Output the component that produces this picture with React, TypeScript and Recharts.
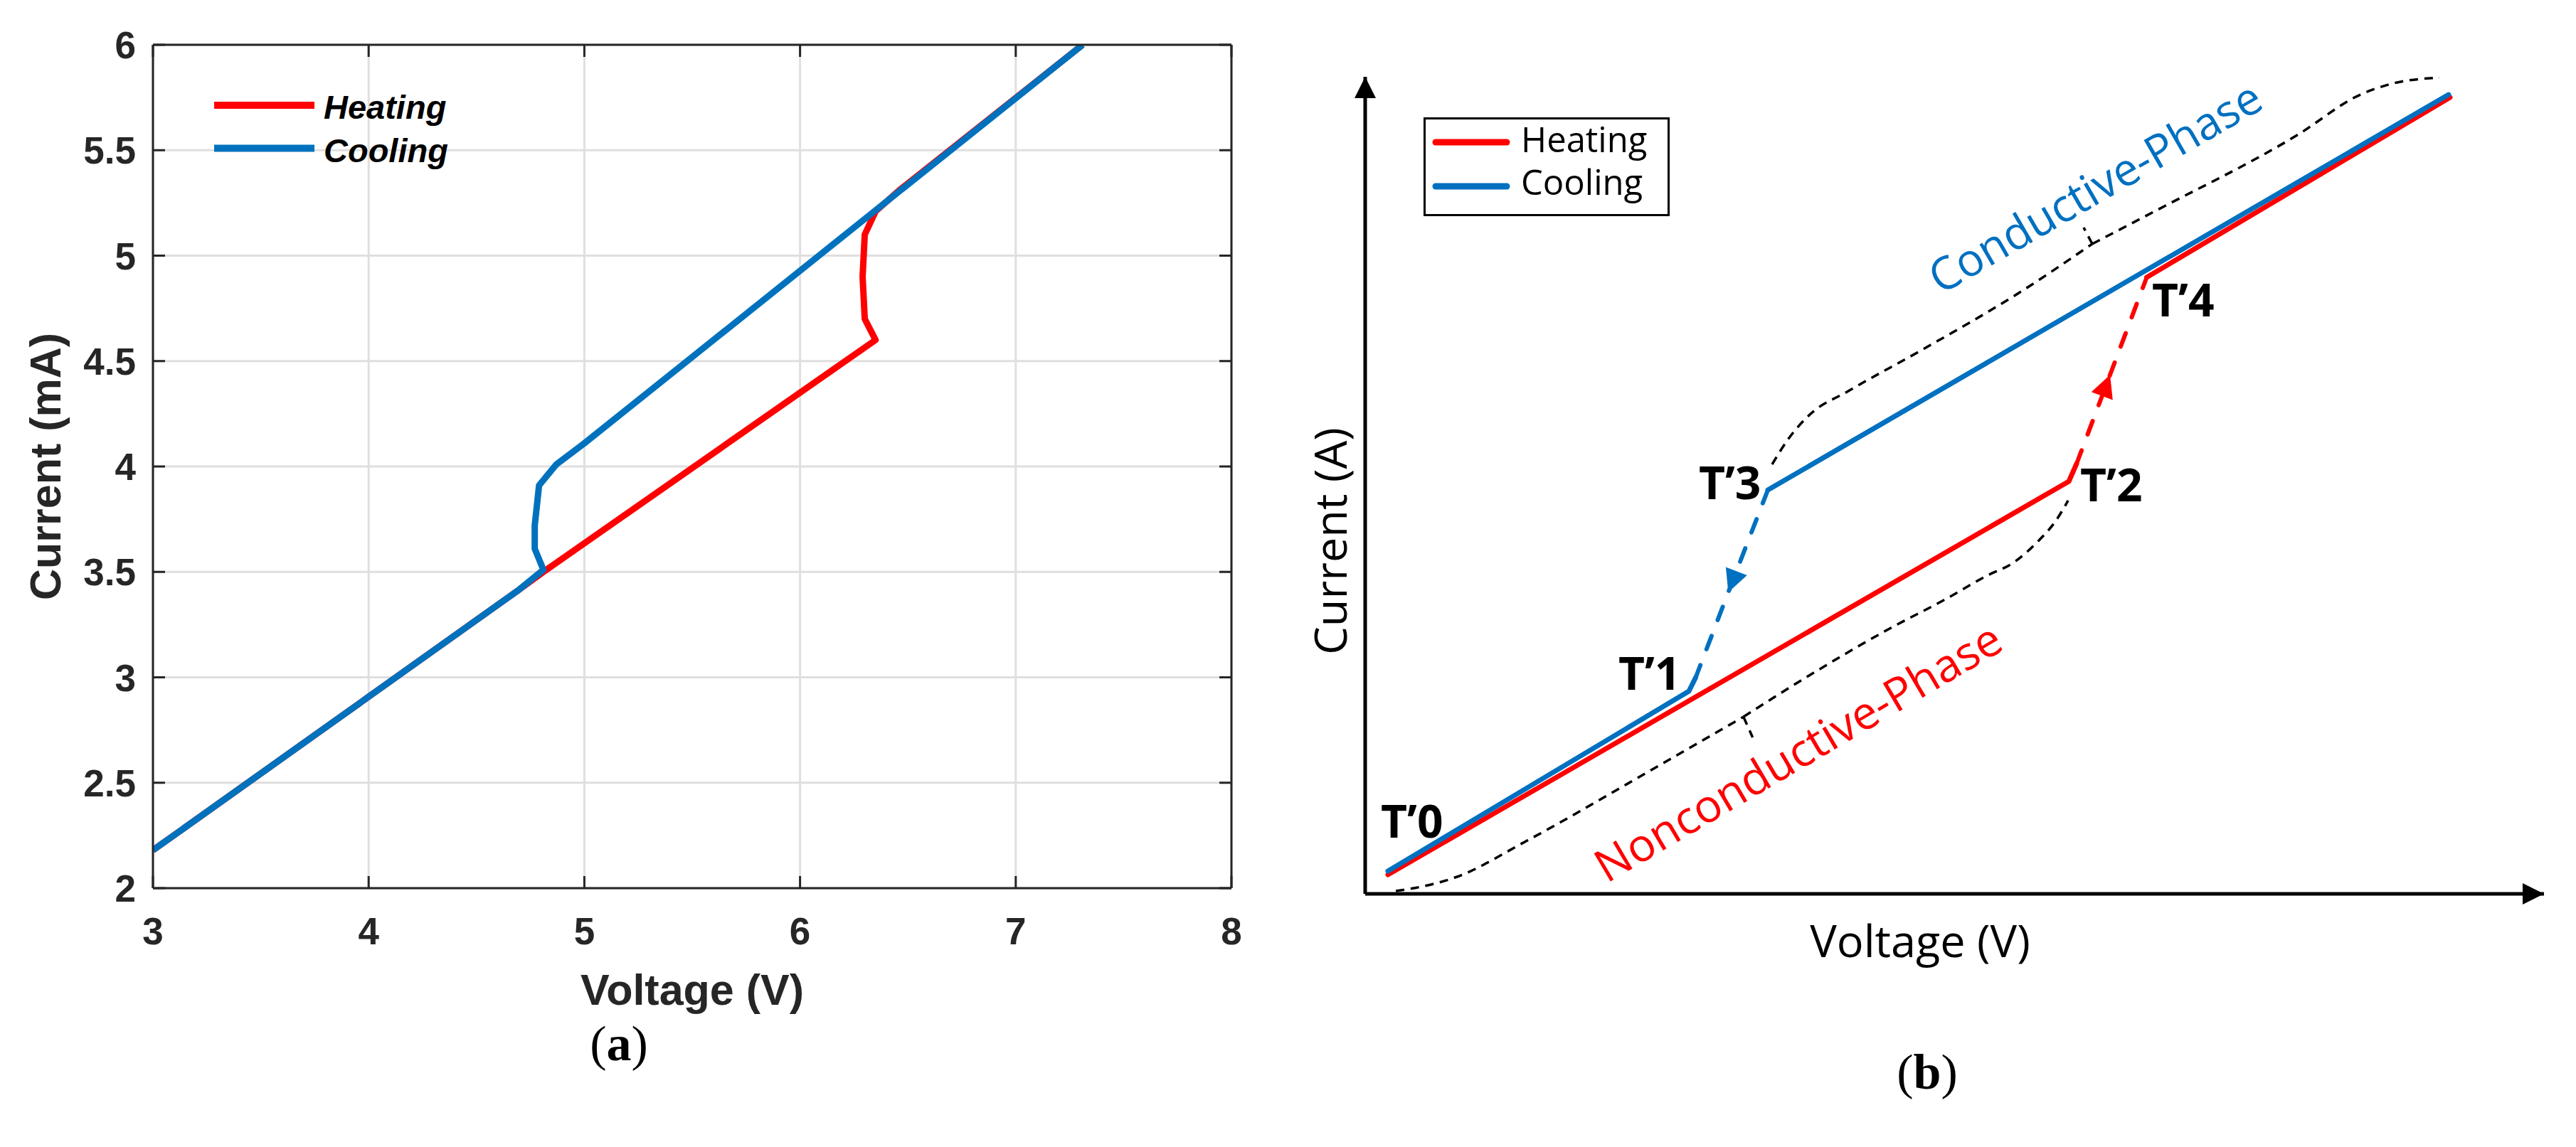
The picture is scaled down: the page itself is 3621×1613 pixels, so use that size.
import React from 'react';
import {
  LineChart,
  ComposedChart,
  Line,
  Scatter,
  XAxis,
  YAxis,
  CartesianGrid,
  ReferenceDot,
  Legend,
  Label,
} from 'recharts';

// ---------------- Panel (a): measured I–V curves ----------------
const voltageTicksA = [3, 4, 5, 6, 7, 8];
const currentTicksA = [2, 2.5, 3, 3.5, 4, 4.5, 5, 5.5, 6];

const heatingA = [
  { x: 3.0, y: 2.18 },
  { x: 4.69, y: 3.41 },
  { x: 4.81, y: 3.5 },
  { x: 6.35, y: 4.6 },
  { x: 6.3, y: 4.7 },
  { x: 6.29, y: 4.9 },
  { x: 6.3, y: 5.1 },
  { x: 6.35, y: 5.21 },
  { x: 6.46, y: 5.31 },
  { x: 7.31, y: 6.0 },
];

const coolingA = [
  { x: 7.31, y: 6.0 },
  { x: 5.0, y: 4.11 },
  { x: 4.87, y: 4.01 },
  { x: 4.79, y: 3.91 },
  { x: 4.77, y: 3.72 },
  { x: 4.77, y: 3.61 },
  { x: 4.81, y: 3.51 },
  { x: 4.69, y: 3.41 },
  { x: 3.0, y: 2.18 },
];

// ---------------- Panel (b): schematic (arbitrary units 0–100) ----------------
const heatingLowB = [
  { x: 1.93, y: 2.35 },
  { x: 59.69, y: 50.48 },
  { x: 60.35, y: 52.65 },
];
const heatingJumpB = [
  { x: 60.35, y: 52.65 },
  { x: 63.19, y: 63.53 },
  { x: 66.3, y: 75.46 },
];
const heatingHighB = [
  { x: 66.3, y: 75.46 },
  { x: 92.03, y: 97.48 },
];
const coolingHighB = [
  { x: 91.91, y: 97.82 },
  { x: 34.16, y: 49.43 },
];
const coolingJumpB = [
  { x: 34.16, y: 49.43 },
  { x: 30.8, y: 36.9 },
  { x: 28.03, y: 26.46 },
];
const coolingLowB = [
  { x: 28.03, y: 26.46 },
  { x: 27.46, y: 24.8 },
  { x: 1.93, y: 2.79 },
];

const braceNonLeft = [
  { x: 2.6, y: 0.35 },
  { x: 3.79, y: 0.61 },
  { x: 7.79, y: 2.09 },
  { x: 13.64, y: 6.44 },
  { x: 23.84, y: 14.8 },
  { x: 32.09, y: 21.67 },
];
const braceNonTick = [
  { x: 32.09, y: 21.67 },
  { x: 32.87, y: 19.15 },
];
const braceNonRight = [
  { x: 32.09, y: 21.67 },
  { x: 37.66, y: 26.72 },
  { x: 44.6, y: 32.55 },
  { x: 49.19, y: 36.03 },
  { x: 52.69, y: 38.9 },
  { x: 55.1, y: 40.64 },
  { x: 56.97, y: 42.99 },
  { x: 58.6, y: 45.69 },
  { x: 59.63, y: 48.13 },
];
const braceConLeft = [
  { x: 34.52, y: 52.57 },
  { x: 35.91, y: 55.7 },
  { x: 37.72, y: 58.66 },
  { x: 40.98, y: 61.53 },
  { x: 47.13, y: 66.49 },
  { x: 55.64, y: 73.72 },
  { x: 61.68, y: 79.55 },
];
const braceConTick = [
  { x: 61.68, y: 79.55 },
  { x: 60.95, y: 81.55 },
];
const braceConRight = [
  { x: 61.68, y: 79.55 },
  { x: 66.99, y: 83.55 },
  { x: 79.06, y: 92.86 },
  { x: 84.43, y: 97.82 },
  { x: 87.27, y: 99.22 },
  { x: 91.13, y: 99.9 },
];

const pointLabels = [
  { x: 1.33, y: 6.88, text: 'T\u20190' },
  { x: 21.48, y: 24.98, text: 'T\u20191' },
  { x: 60.65, y: 48.04, text: 'T\u20192' },
  { x: 28.3, y: 48.3, text: 'T\u20193' },
  { x: 66.75, y: 70.67, text: 'T\u20194' },
];
const phaseLabels = [
  { x: 62.6, y: 84.77, text: 'Conductive-Phase' },
  { x: 37.42, y: 15.62, text: 'Nonconductive-Phase' },
];

const legendOrder = ['Heating', 'Cooling'];

// ---------------- styles ----------------
const SANS = "'Liberation Sans', Arial, Helvetica, sans-serif";
const CAL = "'Open Sans', 'Noto Sans', sans-serif";
const SERIF = "'Liberation Serif', 'DejaVu Serif', serif";
const INK = '#262626';
const RED_A = '#ff0000';
const BLUE_A = '#0072bd';
const RED_B = '#ff0000';
const BLUE_B = '#0070c0';

const phaseStyle: Record<string, { color: string; angle: number; len: number }> = {
  'Conductive-Phase': { color: BLUE_B, angle: -30, len: 528 },
  'Nonconductive-Phase': { color: RED_B, angle: -30.5, len: 651 },
};

const sortLegend = (payload: any[]) =>
  (payload || [])
    .filter((it: any) => legendOrder.includes(it.value))
    .sort((a: any, b: any) => legendOrder.indexOf(a.value) - legendOrder.indexOf(b.value));

// ---------- panel (a) ticks ----------
const LeftTickA = (p: any) => (
  <g>
    <line x1={p.x} y1={p.y} x2={p.x + 17} y2={p.y} stroke={INK} strokeWidth={3} />
    <text
      x={p.x - 24}
      y={p.y + 19}
      textAnchor="end"
      fontFamily={SANS}
      fontWeight="bold"
      fontSize={53}
      fill={INK}
    >
      {String(p.payload.value)}
    </text>
  </g>
);
const RightTickA = (p: any) => (
  <line x1={p.x} y1={p.y} x2={p.x - 17} y2={p.y} stroke={INK} strokeWidth={3} />
);
const BottomTickA = (p: any) => (
  <g>
    <line x1={p.x} y1={p.y} x2={p.x} y2={p.y - 17} stroke={INK} strokeWidth={3} />
    <text
      x={p.x}
      y={p.y + 79}
      textAnchor="middle"
      fontFamily={SANS}
      fontWeight="bold"
      fontSize={53}
      fill={INK}
    >
      {String(p.payload.value)}
    </text>
  </g>
);
const TopTickA = (p: any) => (
  <line x1={p.x} y1={p.y} x2={p.x} y2={p.y + 17} stroke={INK} strokeWidth={3} />
);

const xLabelA = (props: any) => {
  const vb = props.viewBox || { x: 215, y: 1249, width: 1516, height: 150 };
  return (
    <g>
      <text
        x={vb.x + vb.width / 2}
        y={vb.y + 164}
        textAnchor="middle"
        fontFamily={SANS}
        fontWeight="bold"
        fontSize={61}
        fill={INK}
      >
        Voltage (V)
      </text>
      <text x={vb.x + 655} y={vb.y + 242} textAnchor="middle" fontFamily={SERIF} fontSize={70} fill="#000">
        (<tspan fontWeight="bold">a</tspan>)
      </text>
    </g>
  );
};
const yLabelA = (props: any) => {
  const vb = props.viewBox || { x: 65, y: 63, width: 150, height: 1186 };
  const x = vb.x + 20;
  const y = vb.y + vb.height / 2;
  return (
    <text
      x={x}
      y={y}
      transform={`rotate(-90, ${x}, ${y})`}
      textAnchor="middle"
      fontFamily={SANS}
      fontWeight="bold"
      fontSize={61}
      fill={INK}
    >
      Current (mA)
    </text>
  );
};

const legendA = (props: any) => {
  const items = sortLegend(props.payload);
  return (
    <svg width={420} height={170} style={{ overflow: 'visible' }}>
      {items.map((it: any, i: number) => (
        <g key={i}>
          <line x1={11} x2={152} y1={38 + i * 60.5} y2={38 + i * 60.5} stroke={it.color} strokeWidth={10} />
          <text
            x={165}
            y={57 + i * 61}
            fontFamily={SANS}
            fontStyle="italic"
            fontWeight="bold"
            fontSize={47}
            fill="#000"
          >
            {it.value}
          </text>
        </g>
      ))}
    </svg>
  );
};

// ---------- panel (b) helpers ----------
const legendB = (props: any) => {
  const items = sortLegend(props.payload);
  return (
    <svg width={380} height={170} style={{ overflow: 'visible' }}>
      <rect x={1.5} y={1.5} width={343} height={136} fill="#fff" stroke="#000" strokeWidth={3} />
      {items.map((it: any, i: number) => (
        <g key={i}>
          <line
            x1={17}
            x2={117}
            y1={35 + i * 62}
            y2={35 + i * 62}
            stroke={it.color}
            strokeWidth={9}
            strokeLinecap="round"
          />
          <text x={137} y={49 + i * 60} fontFamily={CAL} fontSize={49} fill="#000">
            {it.value}
          </text>
        </g>
      ))}
    </svg>
  );
};

const arrowDot = (color: string, fallbackDeg: number) => (props: any) => {
  const { cx, cy, index, points } = props;
  const key = `arrow-${index}`;
  if (index !== 1 || cx == null || cy == null) return <g key={key} />;
  let ang = (fallbackDeg * Math.PI) / 180;
  if (points && points.length >= 3) {
    const a = points[0];
    const b = points[points.length - 1];
    ang = Math.atan2(b.y - a.y, b.x - a.x);
  }
  const L = 32;
  const W = 16;
  const bx = cx - L * Math.cos(ang);
  const by = cy - L * Math.sin(ang);
  const px = -Math.sin(ang) * W;
  const py = Math.cos(ang) * W;
  return (
    <path
      key={key}
      d={`M${cx},${cy} L${bx + px},${by + py} L${bx - px},${by - py} Z`}
      fill={color}
      stroke="none"
      strokeDasharray="none"
    />
  );
};

const xLabelB = (props: any) => {
  const vb = props.viewBox || { x: 119, y: 1257, width: 1657, height: 20 };
  return (
    <g>
      <text x={vb.x + 780} y={vb.y + 89} textAnchor="middle" fontFamily={CAL} fontSize={63} fill="#000">
        Voltage (V)
      </text>
      <text x={vb.x + 790} y={vb.y + 274} textAnchor="middle" fontFamily={SERIF} fontSize={70} fill="#000">
        (<tspan fontWeight="bold">b</tspan>)
      </text>
    </g>
  );
};
const yLabelB = (props: any) => {
  const vb = props.viewBox || { x: 99, y: 108, width: 20, height: 1149 };
  const x = vb.x - 6;
  const y = vb.y + 653;
  return (
    <text
      x={x}
      y={y}
      transform={`rotate(-90, ${x}, ${y})`}
      textAnchor="middle"
      fontFamily={CAL}
      fontSize={63}
      fill="#000"
    >
      Current (A)
    </text>
  );
};

const PanelA = () => (
  <LineChart width={1800} height={1613} margin={{ top: 53, right: 59, bottom: 214, left: 65 }}>
    <CartesianGrid stroke="#dfdfdf" strokeWidth={3} />
    <XAxis
      dataKey="x"
      type="number"
      domain={[3, 8]}
      ticks={voltageTicksA}
      allowDataOverflow
      height={150}
      tickSize={0}
      tickMargin={0}
      tickLine={false}
      axisLine={{ stroke: INK, strokeWidth: 3 }}
      tick={BottomTickA}
      interval={0}
    >
      <Label content={xLabelA} />
    </XAxis>
    <XAxis
      xAxisId="top"
      orientation="top"
      dataKey="x"
      type="number"
      domain={[3, 8]}
      ticks={voltageTicksA}
      allowDataOverflow
      height={10}
      tickSize={0}
      tickMargin={0}
      tickLine={false}
      axisLine={{ stroke: INK, strokeWidth: 3 }}
      tick={TopTickA}
      interval={0}
    />
    <YAxis
      type="number"
      domain={[2, 6]}
      ticks={currentTicksA}
      allowDataOverflow
      width={150}
      tickSize={0}
      tickMargin={0}
      tickLine={false}
      axisLine={{ stroke: INK, strokeWidth: 3 }}
      tick={LeftTickA}
      interval={0}
    >
      <Label content={yLabelA} />
    </YAxis>
    <YAxis
      yAxisId="right"
      orientation="right"
      type="number"
      domain={[2, 6]}
      ticks={currentTicksA}
      allowDataOverflow
      width={10}
      tickSize={0}
      tickMargin={0}
      tickLine={false}
      axisLine={{ stroke: INK, strokeWidth: 3 }}
      tick={RightTickA}
      interval={0}
    />
    <Line
      data={heatingA}
      dataKey="y"
      name="Heating"
      stroke={RED_A}
      strokeWidth={9}
      strokeLinejoin="round"
      dot={false}
      activeDot={false}
      isAnimationActive={false}
    />
    <Line
      data={coolingA}
      dataKey="y"
      name="Cooling"
      stroke={BLUE_A}
      strokeWidth={9}
      strokeLinejoin="round"
      dot={false}
      activeDot={false}
      isAnimationActive={false}
    />
    <Legend
      layout="horizontal"
      verticalAlign="middle"
      align="center"
      content={legendA}
      wrapperStyle={{ left: 290, top: 110, width: 420, height: 170 }}
    />
  </LineChart>
);

const lineCommon = {
  dataKey: 'y',
  dot: false as const,
  activeDot: false as const,
  isAnimationActive: false,
  strokeLinejoin: 'round' as const,
};

const PanelB = () => (
  <ComposedChart width={1821} height={1613} margin={{ top: 108, right: 45, bottom: 336, left: 99 }}>
    <XAxis
      dataKey="x"
      type="number"
      domain={[0, 100]}
      allowDataOverflow
      height={20}
      tick={false}
      tickLine={false}
      axisLine={{ stroke: '#000', strokeWidth: 5 }}
    >
      <Label content={xLabelB} />
    </XAxis>
    <YAxis
      dataKey="y"
      type="number"
      domain={[0, 100]}
      allowDataOverflow
      width={20}
      tick={false}
      tickLine={false}
      axisLine={{ stroke: '#000', strokeWidth: 5 }}
    >
      <Label content={yLabelB} />
    </YAxis>

    {/* black dashed braces */}
    {[braceNonLeft, braceNonRight, braceNonTick, braceConLeft, braceConRight, braceConTick].map((d, i) => (
      <Line
        key={`brace-${i}`}
        {...lineCommon}
        data={d}
        type="monotone"
        stroke="#000"
        strokeWidth={3.5}
        strokeDasharray="12 9"
        legendType="none"
      />
    ))}

    {/* heating (red) */}
    <Line
      {...lineCommon}
      data={heatingLowB}
      name="Heating"
      stroke={RED_B}
      strokeWidth={7}
      strokeLinecap="round"
    />
    <Line
      {...lineCommon}
      data={heatingHighB}
      stroke={RED_B}
      strokeWidth={7}
      strokeLinecap="round"
      legendType="none"
    />
    <Line
      {...lineCommon}
      data={heatingJumpB}
      stroke={RED_B}
      strokeWidth={6}
      strokeLinecap="round"
      strokeDasharray="20 24"
      dot={arrowDot(RED_B, -69)}
      legendType="none"
    />

    {/* cooling (blue) */}
    <Line
      {...lineCommon}
      data={coolingHighB}
      name="Cooling"
      stroke={BLUE_B}
      strokeWidth={7}
      strokeLinecap="round"
    />
    <Line
      {...lineCommon}
      data={coolingLowB}
      stroke={BLUE_B}
      strokeWidth={7}
      strokeLinecap="round"
      legendType="none"
    />
    <Line
      {...lineCommon}
      data={coolingJumpB}
      stroke={BLUE_B}
      strokeWidth={6}
      strokeLinecap="round"
      strokeDasharray="20 24"
      dot={arrowDot(BLUE_B, 111)}
      legendType="none"
    />

    {/* axis arrowheads */}
    <ReferenceDot
      x={100}
      y={0}
      r={0}
      ifOverflow="visible"
      shape={(p: any) => (
        <path d={`M${p.cx},${p.cy} L${p.cx - 30},${p.cy - 15} L${p.cx - 30},${p.cy + 15} Z`} fill="#000" />
      )}
    />
    <ReferenceDot
      x={0}
      y={100}
      r={0}
      ifOverflow="visible"
      shape={(p: any) => (
        <path d={`M${p.cx},${p.cy} L${p.cx - 15},${p.cy + 30} L${p.cx + 15},${p.cy + 30} Z`} fill="#000" />
      )}
    />

    {/* point labels */}
    <Scatter
      data={pointLabels}
      legendType="none"
      isAnimationActive={false}
      shape={(p: any) => (
        <text x={p.cx} y={p.cy} fontFamily={CAL} fontWeight={700} fontSize={64} fill="#000">
          {p.payload.text}
        </text>
      )}
    />
    <Scatter
      data={phaseLabels}
      legendType="none"
      isAnimationActive={false}
      shape={(p: any) => {
        const st = phaseStyle[p.payload.text];
        return (
          <text
            x={p.cx}
            y={p.cy}
            transform={`rotate(${st.angle}, ${p.cx}, ${p.cy})`}
            textAnchor="middle"
            fontFamily={CAL}
            fontSize={64}
            fill={st.color}
            textLength={st.len}
            lengthAdjust="spacingAndGlyphs"
          >
            {p.payload.text}
          </text>
        );
      }}
    />

    <Legend
      layout="horizontal"
      verticalAlign="middle"
      align="center"
      content={legendB}
      wrapperStyle={{ left: 201, top: 165, width: 380, height: 170 }}
    />
  </ComposedChart>
);

export default function App() {
  return (
    <div style={{ position: 'absolute', left: 0, top: 0, width: 3621, height: 1613, background: '#fff', overflow: 'hidden' }}>
      <div style={{ position: 'absolute', left: 0, top: 0 }}>
        <PanelA />
      </div>
      <div style={{ position: 'absolute', left: 1800, top: 0 }}>
        <PanelB />
      </div>
    </div>
  );
}
